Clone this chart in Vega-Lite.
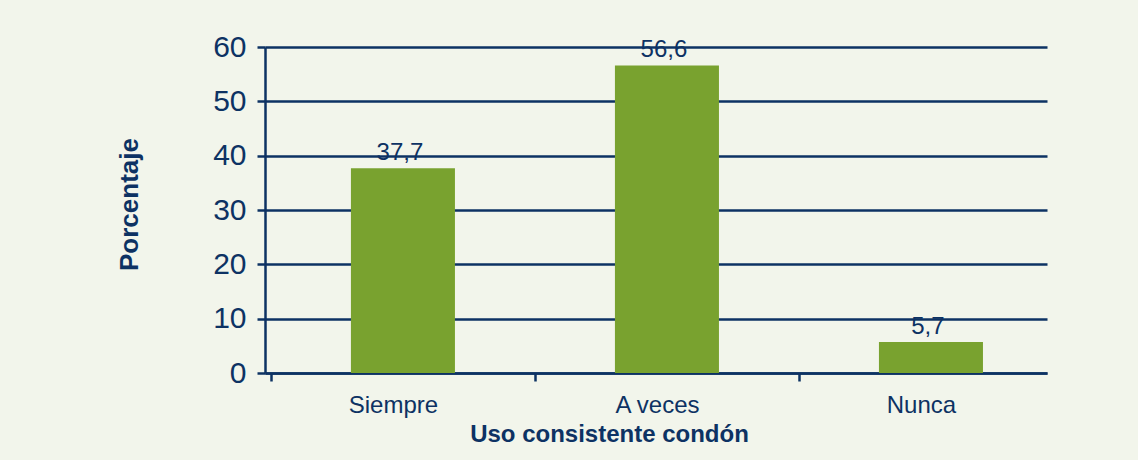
{
  "$schema": "https://vega.github.io/schema/vega-lite/v6.json",
  "autosize": "none",
  "width": 782,
  "height": 326,
  "padding": {"left": 265, "top": 47, "right": 91, "bottom": 87},
  "background": "#f2f5eb",
  "data": {
    "values": [
      {"categoria": "Siempre", "porcentaje": 37.7, "etiqueta": "37,7"},
      {"categoria": "A veces", "porcentaje": 56.6, "etiqueta": "56,6"},
      {"categoria": "Nunca", "porcentaje": 5.7, "etiqueta": "5,7"}
    ]
  },
  "encoding": {
    "x": {
      "field": "categoria",
      "type": "nominal",
      "sort": null,
      "scale": {"paddingInner": 0.606, "paddingOuter": 0.284, "align": 0.573},
      "axis": {
        "title": "Uso consistente condón",
        "labelAngle": 0,
        "tickOffset": -132,
        "labelOffset": 122,
        "labelFontSize": 24,
        "labelColor": "#0d3263",
        "labelFont": "Liberation Sans",
        "labelPadding": 12,
        "tickSize": 8,
        "tickWidth": 2.5,
        "tickColor": "#0d3263",
        "domainColor": "#0d3263",
        "domainWidth": 2.5,
        "titleFont": "Liberation Sans",
        "titleFontSize": 24,
        "titleFontWeight": "bold",
        "titleColor": "#0d3263",
        "titlePadding": 5,
        "titleX": 344,
        "titleAlign": "center",
        "grid": false
      }
    },
    "y": {
      "field": "porcentaje",
      "type": "quantitative",
      "scale": {"domain": [0, 60], "nice": false},
      "axis": {
        "title": "Porcentaje",
        "values": [0, 10, 20, 30, 40, 50, 60],
        "labelFontSize": 30,
        "labelColor": "#0d3263",
        "labelFont": "Liberation Sans",
        "labelPadding": 11,
        "tickSize": 8,
        "tickWidth": 2.5,
        "tickColor": "#0d3263",
        "domainColor": "#0d3263",
        "domainWidth": 2.5,
        "grid": true,
        "gridColor": "#0d3263",
        "gridWidth": 2.5,
        "gridOpacity": 1,
        "titleFont": "Liberation Sans",
        "titleFontSize": 26,
        "titleFontWeight": "bold",
        "titleColor": "#0d3263",
        "titlePadding": 70,
        "titleY": 157,
        "titleAlign": "center"
      }
    }
  },
  "layer": [
    {"mark": {"type": "bar", "color": "#79a22f"}},
    {
      "mark": {
        "type": "text",
        "baseline": "alphabetic",
        "dy": -8,
        "dx": -3,
        "fontSize": 24,
        "font": "Liberation Sans",
        "color": "#0d3263"
      },
      "encoding": {"text": {"field": "etiqueta"}}
    }
  ],
  "config": {"view": {"stroke": null}}
}
